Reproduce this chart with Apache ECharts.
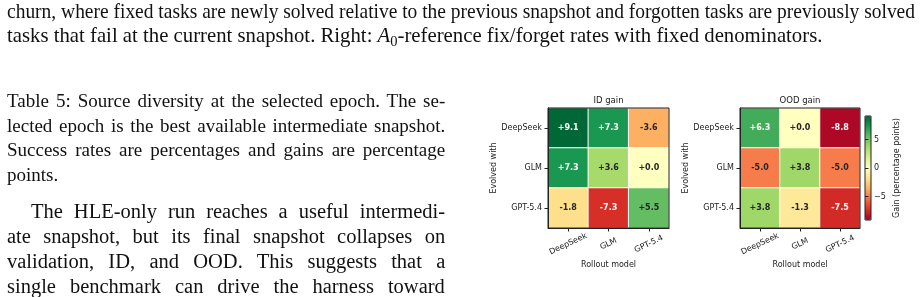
<!DOCTYPE html>
<html>
<head>
<meta charset="utf-8">
<script src="https://cdn.jsdelivr.net/npm/echarts@6/dist/echarts.min.js"></script>
<style>
  html, body { margin: 0; padding: 0; background: #fff; }
  #page { position: relative; width: 920px; height: 297px; overflow: hidden; }
  #chart { position: absolute; left: 0; top: 0; width: 920px; height: 297px; }
  .prose { position: absolute; font-family: "Liberation Serif", "Times New Roman", serif; color: #111; }
  .prose .ln { white-space: nowrap; }
  .prose .ln span { display: inline-block; transform-origin: 0 0; }
  .prose sub { font-size: 0.7em; vertical-align: -0.25em; line-height: 0; }
</style>
</head>
<body>
<div id="page">
  <div id="chart"></div>

  <!-- lines marked data-sx are squeezed to width, data-w are justified by word spacing -->
  <div class="prose" id="figcap" style="left:6.7px; top:-1.3px; font-size:22px; line-height:24.4px;">
    <div class="ln" data-sx="908"><span>churn, where fixed tasks are newly solved relative to the previous snapshot and forgotten tasks are previously solved</span></div>
    <div class="ln" data-sx="815"><span>tasks that fail at the current snapshot. Right: <i>A</i><sub>0</sub>-reference fix/forget rates with fixed denominators.</span></div>
  </div>

  <div class="prose" id="tabcap" style="left:7px; top:89px; font-size:19px; line-height:24.5px;">
    <div class="ln" data-w="438"><span>Table 5: Source diversity at the selected epoch. The se-</span></div>
    <div class="ln" data-w="438"><span>lected epoch is the best available intermediate snapshot.</span></div>
    <div class="ln" data-w="438"><span>Success rates are percentages and gains are percentage</span></div>
    <div class="ln"><span>points.</span></div>
  </div>

  <div class="prose" id="para" style="left:7px; top:198.5px; font-size:20.5px; line-height:25.1px;">
    <div class="ln" data-w="414" style="padding-left:24px;"><span>The HLE-only run reaches a useful intermedi-</span></div>
    <div class="ln" data-w="438"><span>ate snapshot, but its final snapshot collapses on</span></div>
    <div class="ln" data-w="438"><span>validation, ID, and OOD. This suggests that a</span></div>
    <div class="ln" data-w="438"><span>single benchmark can drive the harness toward</span></div>
  </div>
</div>

<script>
// row = evolved with, column = rollout model
var rollout = ["DeepSeek", "GLM", "GPT-5.4"];
var evolved = ["DeepSeek", "GLM", "GPT-5.4"];
var idGain = [
  [9.1, 7.3, -3.6],
  [7.3, 3.6, 0.0],
  [-1.8, -7.3, 5.5],
];
var oodGain = [
  [6.3, 0.0, -8.8],
  [-5.0, 3.8, -5.0],
  [3.8, -1.3, -7.5],
];
var cbarTicks = [-5, 0, 5];
var gainMax = 9.1;

// RdYlGn
var rdYlGn = [
  "#a50026", "#d73027", "#f46d43", "#fdae61", "#fee08b", "#ffffbf",
  "#d9ef8b", "#a6d96a", "#66bd63", "#1a9850", "#006837",
];

var FONT = "DejaVu Sans";
var INK = "#222";

// fit prose lines to the widths measured on the page
document.querySelectorAll(".prose .ln").forEach(function (ln) {
  var span = ln.firstElementChild;
  var w = span.offsetWidth;
  if (ln.dataset.sx) {
    span.style.transform = "scaleX(" + (+ln.dataset.sx / w) + ")";
  } else if (ln.dataset.w) {
    var gaps = span.textContent.split(" ").length - 1;
    span.style.wordSpacing = (+ln.dataset.w - w) / gaps + "px";
  }
});

function cells(mat) {
  var out = [];
  mat.forEach(function (row, r) {
    row.forEach(function (v, c) {
      out.push({
        value: [c, r, v],
        label: { color: Math.abs(v) > 6 ? "#fff" : "#262626" },
      });
    });
  });
  return out;
}

function fmtGain(p) {
  var v = p.value[2];
  return (v >= 0 ? "+" : "") + v.toFixed(1);
}

function xAxisFor(gi) {
  return {
    gridIndex: gi,
    type: "category",
    data: rollout,
    position: "bottom",
    z: 10,
    axisLine: { show: true, lineStyle: { color: INK, width: 1 } },
    axisTick: { show: true, alignWithLabel: true, length: 3.5, lineStyle: { color: INK } },
    axisLabel: {
      fontFamily: FONT, fontSize: 8, color: INK,
      rotate: 25, align: "center", verticalAlign: "middle", margin: 16,
    },
    splitLine: { show: false },
    name: "Rollout model",
    nameLocation: "middle",
    nameGap: 37,
    nameTextStyle: { fontFamily: FONT, fontSize: 8, color: INK, verticalAlign: "middle" },
  };
}

function yAxisFor(gi) {
  return {
    gridIndex: gi,
    type: "category",
    data: evolved,
    inverse: true,
    position: "left",
    z: 10,
    axisLine: { show: true, lineStyle: { color: INK, width: 1 } },
    axisTick: { show: true, alignWithLabel: true, length: 3.5, lineStyle: { color: INK } },
    axisLabel: { fontFamily: FONT, fontSize: 8, color: INK, margin: 6 },
    splitLine: { show: false },
    name: "Evolved with",
    nameLocation: "middle",
    nameRotate: 90,
    nameGap: 51,
    nameTextStyle: { fontFamily: FONT, fontSize: 8, color: INK, verticalAlign: "middle" },
  };
}

function heat(idx, mat) {
  return {
    type: "heatmap",
    xAxisIndex: idx,
    yAxisIndex: idx,
    data: cells(mat),
    itemStyle: { borderColor: "#fff", borderWidth: 1 },
    label: {
      show: true,
      formatter: fmtGain,
      fontFamily: FONT,
      fontSize: 8,
      fontWeight: "bold",
    },
    emphasis: { disabled: true },
  };
}

var gridBase = {
  show: true,
  borderColor: INK,
  borderWidth: 1,
  backgroundColor: "transparent",
  z: 10,
  containLabel: false,
  outerBoundsMode: "none",
};

var chart = echarts.init(document.getElementById("chart"), null, { renderer: "canvas" });

chart.setOption({
  animation: false,
  title: [
    {
      text: "ID gain", left: 608.5, top: 96, textAlign: "center", padding: 0,
      textStyle: { fontFamily: FONT, fontSize: 8.5, fontWeight: "normal", color: INK },
    },
    {
      text: "OOD gain", left: 800, top: 96, textAlign: "center", padding: 0,
      textStyle: { fontFamily: FONT, fontSize: 8.5, fontWeight: "normal", color: INK },
    },
  ],
  grid: [
    Object.assign({}, gridBase, { left: 548, top: 108, width: 121, height: 120 }),
    Object.assign({}, gridBase, { left: 740, top: 108, width: 120, height: 120 }),
    Object.assign({}, gridBase, { left: 865, top: 116, width: 6, height: 104 }),
  ],
  xAxis: [
    xAxisFor(0),
    xAxisFor(1),
    { gridIndex: 2, type: "value", show: false, min: 0, max: 1 },
  ],
  yAxis: [
    yAxisFor(0),
    yAxisFor(1),
    {
      gridIndex: 2,
      type: "value",
      position: "right",
      min: -gainMax,
      max: gainMax,
      z: 10,
      axisLine: { show: false },
      axisTick: { show: true, length: 3.5, customValues: cbarTicks, lineStyle: { color: INK } },
      axisLabel: {
        customValues: cbarTicks,
        fontFamily: FONT, fontSize: 8, color: INK, margin: 3,
        formatter: function (v) { return v < 0 ? "\u2212" + Math.abs(v) : String(v); },
      },
      splitLine: { show: false },
      name: "Gain (percentage points)",
      nameLocation: "middle",
      nameRotate: 90,
      nameGap: 26,
      nameTextStyle: { fontFamily: FONT, fontSize: 8, color: INK, verticalAlign: "middle" },
    },
  ],
  visualMap: {
    type: "continuous",
    seriesIndex: [0, 1],
    dimension: 2,
    min: -gainMax,
    max: gainMax,
    calculable: false,
    realtime: false,
    orient: "vertical",
    left: 865,
    top: 116,
    padding: 0,
    itemWidth: 6,
    itemHeight: 104,
    text: null,
    showLabel: false,
    inRange: { color: rdYlGn },
  },
  series: [heat(0, idGain), heat(1, oodGain)],
});
</script>
</body>
</html>
